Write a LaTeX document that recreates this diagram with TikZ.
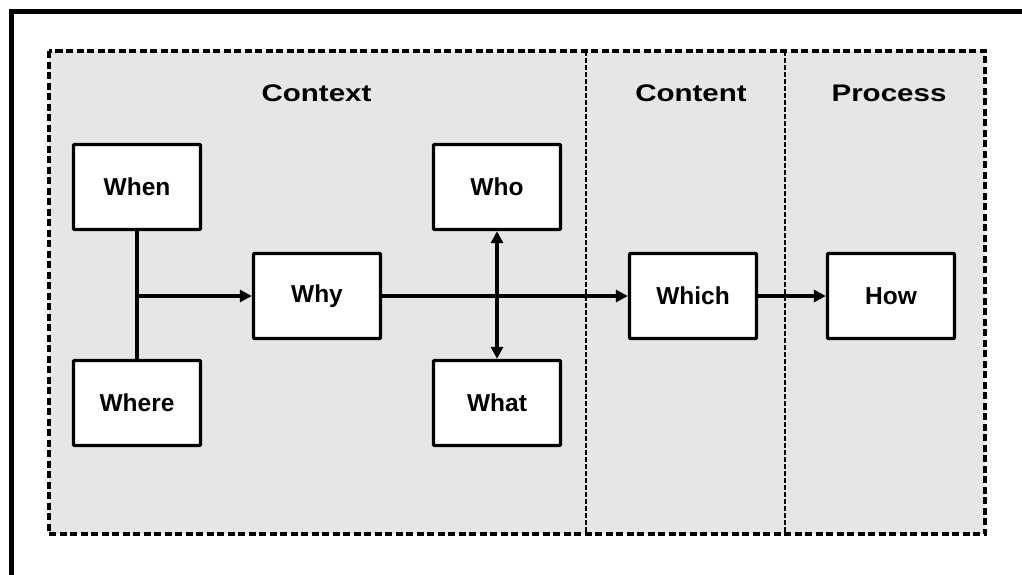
\documentclass[tikz,border=0pt]{standalone}
\usepackage{fontspec}
\setmainfont{Liberation Sans}
\newfontfamily\titlefont[FakeStretch=1.23]{Liberation Sans}
\usetikzlibrary{arrows.meta}
\definecolor{panelgray}{HTML}{E6E6E6}
\begin{document}
\begin{tikzpicture}[x=1pt,y=-1pt,
  wbox/.style={draw=black,line width=3.3pt,fill=white,rounded corners=1pt,
    minimum width=127pt,minimum height=85pt,inner sep=0pt,
    font=\fontsize{24.5}{27}\selectfont\bfseries},
  title/.style={font=\titlefont\fontsize{24}{27}\selectfont\bfseries,inner sep=0pt},
  link/.style={line width=3.4pt},
  tip/.style={-{Triangle[length=12pt,width=12pt]}},
  bothtips/.style={{Triangle[length=12pt,width=12pt]}-{Triangle[length=12pt,width=12pt]}},
  frame/.style={line width=4pt,dash pattern=on 7pt off 3.5pt},
  divider/.style={line width=2pt,dash pattern=on 5pt off 2pt}]
\useasboundingbox (0,0) rectangle (1022,574);
\begin{scope}
\clip (0,0) rectangle (1022,574);
% outer frame, cut by the page edge on the right and bottom
\draw[line width=4.4pt] (11.5,600) -- (11.5,11.5) -- (1040,11.5);
\end{scope}

% shaded panels
\fill[panelgray] (49,51) rectangle (985,534);
\draw[divider] (586,51) -- (586,534);
\draw[divider,line width=2.8pt] (785,51) -- (785,534);
\draw[frame] (49,51) rectangle (985,534);

% panel titles
\node[title] (tctx) at (316.5,93) {Context};
\node[title] (tcnt) at (691,93) {Content};
\node[title] (tprc) at (889,93) {Process};

% boxes
\node[wbox] (when)  at (137,187) {When};
\node[wbox] (where) at (137,403) {Where};
\node[wbox] (why)   at (317,296) {Why};
\node[wbox] (who)   at (497,187) {Who};
\node[wbox] (what)  at (497,403) {What};
\node[wbox] (which) at (693,296) {Which};
\node[wbox] (how)   at (891,296) {How};

% connectors
\coordinate (join) at (137,296);
\draw[link] (when.south) -- (where.north);
\draw[link,tip] (join) -- (why.west);
\draw[link,tip] (why.east) -- (which.west);
\draw[link,bothtips] (who.south) -- (what.north);
\draw[link,tip] (which.east) -- (how.west);
\end{tikzpicture}
\end{document}
